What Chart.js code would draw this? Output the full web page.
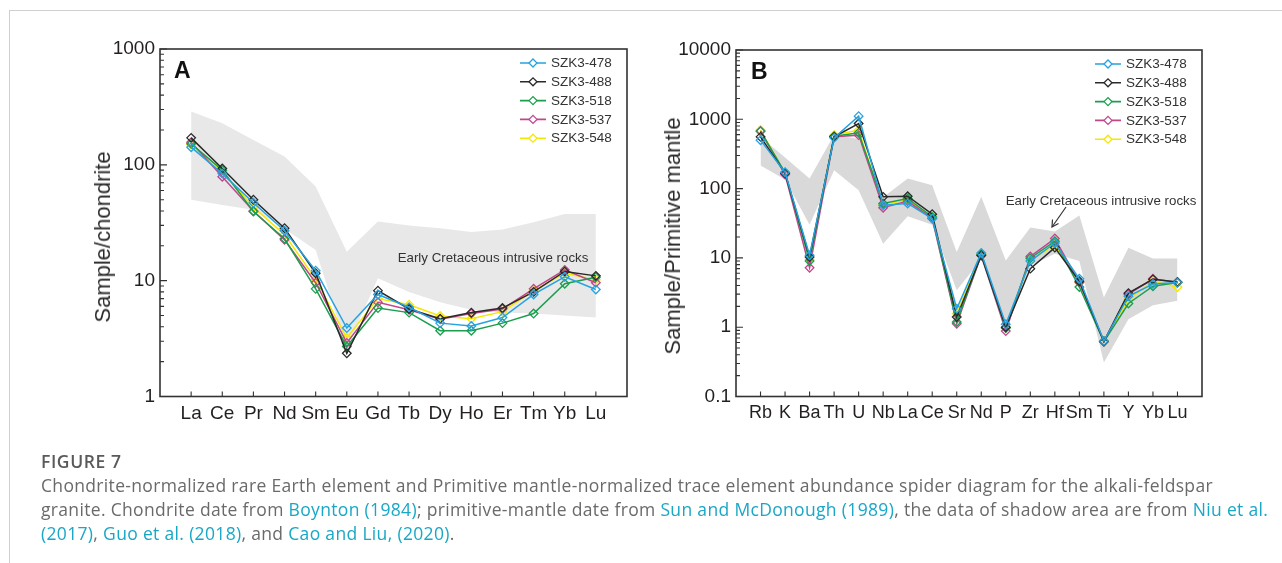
<!DOCTYPE html>
<html>
<head>
<meta charset="utf-8">
<script src="https://cdn.jsdelivr.net/npm/chart.js@4.4.0/dist/chart.umd.min.js"></script>
<style>
  body { margin: 0; width: 1282px; height: 563px; overflow: hidden; position: relative; background: #fff;
         font-family: "Liberation Sans", Arial, sans-serif; color: #231f20; }
  .border { position: absolute; left: 9px; top: 10px; width: 1290px; height: 600px;
            border-top: 1px solid #cfcfcf; border-left: 1px solid #cfcfcf; }
  .wrap { position: absolute; }
  .ytitle { position: absolute; font-size: 22px; white-space: nowrap; color: #2a2a2a;
            transform: translate(-50%, -50%) rotate(-90deg); }
  .panel { position: absolute; font-size: 23px; font-weight: bold; line-height: 23px; color: #111; }
  .note { position: absolute; font-size: 13.3px; line-height: 1; white-space: nowrap; color: #333;
          transform: translate(-50%, -50%); }
  .caption { position: absolute; left: 41px; top: 449px; font-family: "Open Sans", Lato, sans-serif;
             font-size: 17.5px; letter-spacing: 0.33px; line-height: 24px; color: #6a6a6a; white-space: nowrap; }
  .caption .fig { color: #5a5a5a; font-weight: 600; letter-spacing: 0.6px; }
  .caption .lk { color: #19a7c6; }
</style>
</head>
<body>
<div class="border"></div>

<div class="wrap" style="left:80px; top:30px; width:553px; height:400px;"><canvas id="chartA"></canvas></div>
<div class="wrap" style="left:656px; top:30px; width:552px; height:400px;"><canvas id="chartB"></canvas></div>

<div class="ytitle" style="left:103px; top:237px;">Sample/chondrite</div>
<div class="ytitle" style="left:673px; top:236px;">Sample/Primitive mantle</div>
<div class="panel" style="left:174px; top:59px;">A</div>
<div class="panel" style="left:751px; top:60px;">B</div>
<div class="note" style="left:493px; top:258px;">Early Cretaceous intrusive rocks</div>
<div class="note" style="left:1101px; top:201px;">Early Cretaceous intrusive rocks</div>
<svg style="position:absolute; left:0; top:0;" width="1282" height="563">
  <g stroke="#333" stroke-width="1.2" fill="none">
    <line x1="1066" y1="207" x2="1052" y2="227"/>
    <polyline points="1052.5,219.5 1052,227 1058.5,223.5"/>
  </g>
</svg>

<div class="caption">
  <div class="fig">FIGURE 7</div>
  <div>Chondrite-normalized rare Earth element and Primitive mantle-normalized trace element abundance spider diagram for the alkali-feldspar</div>
  <div>granite. Chondrite date from <span class="lk">Boynton (1984)</span>; primitive-mantle date from <span class="lk">Sun and McDonough (1989)</span>, the data of shadow area are from <span class="lk">Niu et al.</span></div>
  <div><span class="lk">(2017)</span>, <span class="lk">Guo et al. (2018)</span>, and <span class="lk">Cao and Liu, (2020)</span>.</div>
</div>

<script>
// --- A: chondrite-normalized REE ---
const catsA = ['La', 'Ce', 'Pr', 'Nd', 'Sm', 'Eu', 'Gd', 'Tb', 'Dy', 'Ho', 'Er', 'Tm', 'Yb', 'Lu'];
const szk478A = [142, 84, 47, 27, 12.2, 3.9, 7.6, 5.9, 4.3, 4.06, 4.8, 7.6, 10.8, 8.4];
const szk488A = [171, 93, 50, 28.4, 11.6, 2.36, 8.2, 5.7, 4.7, 5.3, 5.8, 8.0, 12.0, 11.0];
const szk518A = [152, 90, 39.5, 23, 8.5, 2.7, 5.8, 5.3, 3.7, 3.7, 4.3, 5.2, 9.4, 10.7];
const szk537A = [157, 79, 40, 22.5, 9.6, 2.9, 6.5, 5.6, 4.65, 5.2, 5.7, 8.5, 12.4, 9.6];
const szk548A = [150, 87, 43, 25, 10.3, 3.2, 7.0, 6.2, 4.95, 4.7, 5.4, 8.2, 11.6, 10.2];
const bandTopA = [289, 229, 164, 118, 65, 17.8, 32.4, 30, 28.4, 26.3, 27.6, 32, 37.7, 37.7];
const bandBottomA = [50, 45, 41, 28, 18.4, 2.6, 10.5, 8.0, 6.5, 5.6, 5.3, 5.2, 5.0, 4.8];

// --- B: primitive-mantle-normalized trace elements ---
const catsB = ['Rb', 'K', 'Ba', 'Th', 'U', 'Nb', 'La', 'Ce', 'Sr', 'Nd', 'P', 'Zr', 'Hf', 'Sm', 'Ti', 'Y', 'Yb', 'Lu'];
const szk478B = [500, 172, 10.9, 540, 1110, 57.5, 61, 37, 1.85, 11.8, 1.1, 9.0, 16.4, 5.0, 0.63, 2.8, 4.2, 4.4];
const szk488B = [558, 167, 10.3, 558, 870, 76, 77.6, 42.7, 1.4, 10.8, 1.0, 7.0, 14.1, 4.6, 0.62, 3.1, 4.9, 4.5];
const szk518B = [670, 170, 9.0, 570, 638, 61, 72, 39, 1.19, 11.3, 0.97, 9.9, 17.4, 3.8, 0.62, 2.2, 3.9, 4.4];
const szk537B = [680, 160, 7.2, 560, 591, 53, 66, 37, 1.12, 11.0, 0.88, 10.5, 19, 4.4, 0.62, 3.0, 5.0, 4.4];
const szk548B = [700, 168, 9.5, 590, 698, 59, 69, 39, 1.57, 11.3, 1.0, 9.3, 15.2, 4.4, 0.63, 2.5, 4.6, 3.8];
const bandTopB = [560, 280, 140, 600, 520, 75, 140, 112, 12.2, 76, 9.2, 27.4, 24, 41, 2.7, 14, 9.8, 9.8];
const bandBottomB = [215, 135, 30, 184, 95, 16, 40, 30, 3.4, 9.5, 0.85, 7.8, 11.5, 9, 0.31, 1.3, 2.07, 2.4];

const sampleNames = ['SZK3-478', 'SZK3-488', 'SZK3-518', 'SZK3-537', 'SZK3-548'];
const sampleColors = ['#27a2e0', '#2a2a2a', '#1c9e4f', '#c2468c', '#f5e800'];

function toPoints(vals) {
  return vals.map((v, i) => ({ x: i + 1, y: v }));
}

function isDecade(v) {
  const l = Math.log10(v);
  return Math.abs(l - Math.round(l)) < 1e-6;
}

// box round the plot + inward tick marks
const frameTicks = {
  id: 'frameTicks',
  afterDatasetsDraw(chart, args, opts) {
    const { ctx, chartArea: a, scales } = chart;
    ctx.save();
    ctx.strokeStyle = '#333';
    ctx.lineWidth = 1.6;
    ctx.strokeRect(a.left, a.top, a.right - a.left, a.bottom - a.top);
    ctx.lineWidth = 1.1;
    ctx.beginPath();
    scales.x.ticks.forEach(t => {
      if (t.value < 1 || t.value > opts.count) return;
      const px = scales.x.getPixelForValue(t.value);
      ctx.moveTo(px, a.bottom);
      ctx.lineTo(px, a.bottom - 5);
    });
    scales.y.ticks.forEach(t => {
      const m = t.value / Math.pow(10, Math.floor(Math.log10(t.value) + 1e-9));
      if (Math.abs(m - Math.round(m)) > 1e-6) return;
      const py = scales.y.getPixelForValue(t.value);
      ctx.moveTo(a.left, py);
      ctx.lineTo(a.left + (isDecade(t.value) ? 7 : 4), py);
    });
    ctx.stroke();
    ctx.restore();
  }
};

// legend: line with open diamond, top right inside the frame
const sampleLegend = {
  id: 'sampleLegend',
  afterDraw(chart) {
    const { ctx, chartArea: a } = chart;
    ctx.save();
    ctx.font = '13.5px "Liberation Sans", Arial, sans-serif';
    ctx.textBaseline = 'middle';
    chart.data.datasets.forEach((ds, i) => {
      if (!ds.inLegend) return;
      const y = a.top + 14 + 18.8 * i;
      const x0 = a.right - 107, x1 = a.right - 81, xc = a.right - 94;
      ctx.strokeStyle = ds.borderColor;
      ctx.lineWidth = 1.6;
      ctx.beginPath();
      ctx.moveTo(x0, y);
      ctx.lineTo(xc - 4, y);
      ctx.moveTo(xc + 4, y);
      ctx.lineTo(x1, y);
      ctx.stroke();
      ctx.lineWidth = 1.3;
      ctx.fillStyle = '#fff';
      ctx.beginPath();
      ctx.moveTo(xc - 4, y);
      ctx.lineTo(xc, y - 4);
      ctx.lineTo(xc + 4, y);
      ctx.lineTo(xc, y + 4);
      ctx.closePath();
      ctx.fill();
      ctx.stroke();
      ctx.fillStyle = '#333';
      ctx.fillText(ds.label, a.right - 76, y + 0.5);
    });
    ctx.restore();
  }
};

function makeChart(id, cats, series, bandTop, bandBottom, yMin, yMax, bandColor, tickSize, topPad) {
  const datasets = series.map((vals, i) => ({
    label: sampleNames[i],
    inLegend: true,
    data: toPoints(vals),
    borderColor: sampleColors[i],
    borderWidth: 1.5,
    pointStyle: 'rectRot',
    pointRadius: 4.3,
    pointBorderWidth: 1.3,
    pointBorderColor: sampleColors[i],
    pointBackgroundColor: 'rgba(255,255,255,0)',
    fill: false,
    tension: 0
  }));
  datasets.push({
    label: 'bandTop',
    data: toPoints(bandTop),
    borderColor: 'rgba(0,0,0,0)',
    borderWidth: 0,
    pointRadius: 0,
    fill: false
  });
  datasets.push({
    label: 'bandBottom',
    data: toPoints(bandBottom),
    borderColor: 'rgba(0,0,0,0)',
    backgroundColor: bandColor,
    borderWidth: 0,
    pointRadius: 0,
    fill: '-1'
  });

  return new Chart(document.getElementById(id), {
    type: 'line',
    data: { datasets: datasets },
    plugins: [frameTicks, sampleLegend],
    options: {
      responsive: true,
      maintainAspectRatio: false,
      animation: false,
      events: [],
      layout: { padding: { top: topPad, right: 0, bottom: 0, left: 0 } },
      plugins: {
        legend: { display: false },
        tooltip: { enabled: false },
        frameTicks: { count: cats.length }
      },
      scales: {
        x: {
          type: 'linear',
          min: 0,
          max: cats.length + 1,
          grid: { display: false, drawTicks: false },
          border: { display: false },
          afterFit: s => { s.height = 33.5; },
          ticks: {
            stepSize: 1,
            autoSkip: false,
            maxRotation: 0,
            padding: 6,
            color: '#231f20',
            font: { family: '"Liberation Sans", Arial, sans-serif', size: tickSize },
            callback: v => cats[v - 1] || ''
          }
        },
        y: {
          type: 'logarithmic',
          min: yMin,
          max: yMax,
          grid: { display: false, drawTicks: false },
          border: { display: false },
          afterFit: s => { s.width = 80; },
          ticks: {
            autoSkip: false,
            padding: 5,
            color: '#231f20',
            font: { family: '"Liberation Sans", Arial, sans-serif', size: 19 },
            callback: v => isDecade(v) ? String(Number(v.toPrecision(1))) : ''
          }
        }
      }
    }
  });
}

makeChart('chartA', catsA, [szk478A, szk488A, szk518A, szk537A, szk548A],
  bandTopA, bandBottomA, 1, 1000, '#e8e8e8', 19, 19);
makeChart('chartB', catsB, [szk478B, szk488B, szk518B, szk537B, szk548B],
  bandTopB, bandBottomB, 0.1, 10000, '#d9d9d9', 18, 20);
</script>
</body>
</html>
